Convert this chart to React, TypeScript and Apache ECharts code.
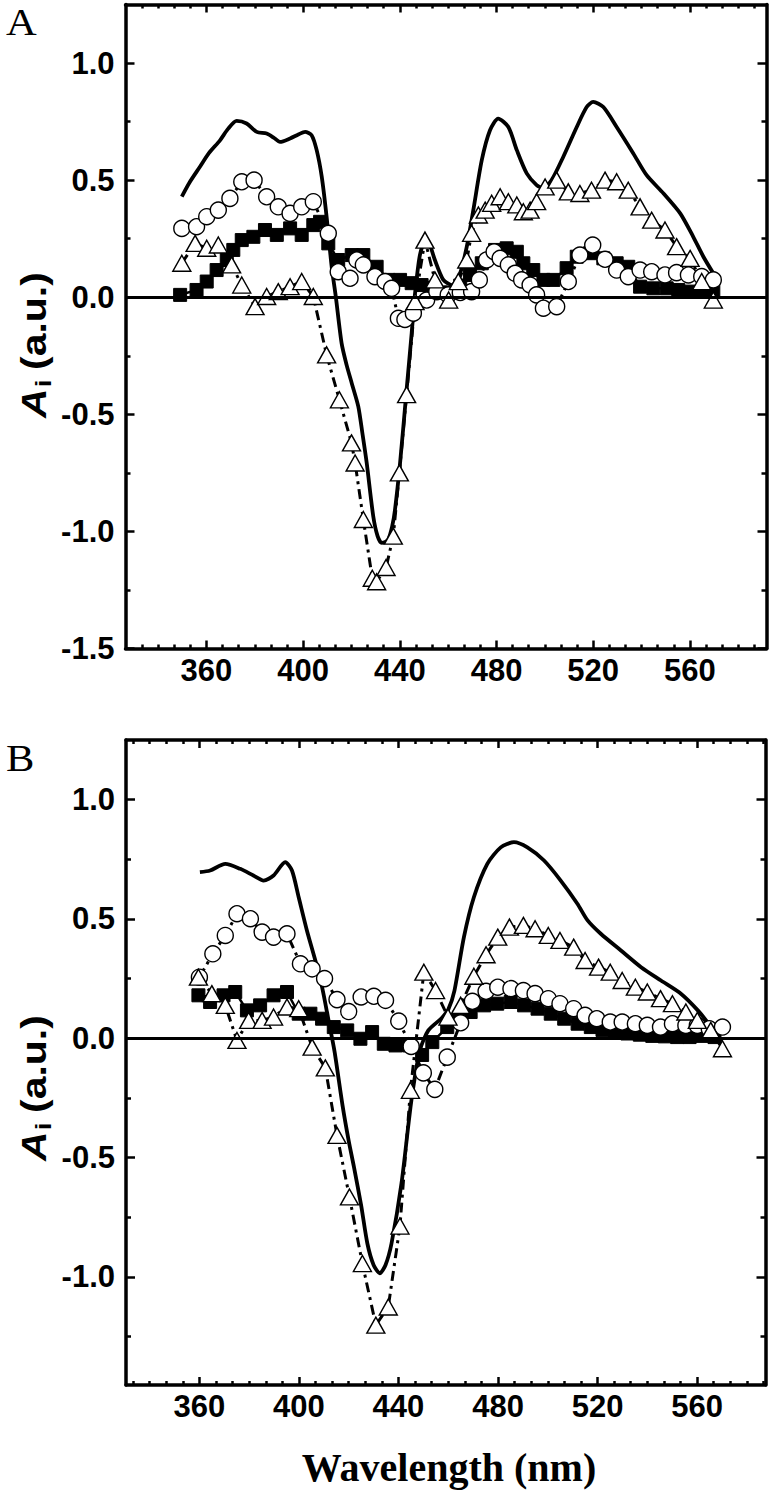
import React, { useEffect, useRef } from "react";
import * as echarts from "echarts";

// ---------- tick values ----------
const xMajorTicks = [360, 400, 440, 480, 520, 560];
const xMinorTicks = [333.33, 340, 346.67, 353.33, 366.67, 373.33, 380, 386.67, 393.33, 406.67, 413.33, 420, 426.67, 433.33, 446.67, 453.33, 460, 466.67, 473.33, 486.67, 493.33, 500, 506.67, 513.33, 526.67, 533.33, 540, 546.67, 553.33, 566.67, 573.33, 580, 586.67];
const yMajorTicksA = [-1.5, -1.0, -0.5, 0, 0.5, 1.0];
const yMinorTicksA = [-1.25, -0.75, -0.25, 0.25, 0.75];
const yMajorTicksB = [-1.0, -0.5, 0, 0.5, 1.0];
const yMinorTicksB = [-1.25, -0.75, -0.25, 0.25, 0.75];

// ---------- Panel A ----------
const aSolidX = [349.8, 353, 357.3, 361, 365.6, 369, 372.5, 376.6, 380.8, 384.9, 388, 390.4, 394.6, 398, 400.8, 403.5, 405.6, 407.7, 409.7, 411.8, 413.5, 415.9, 418, 420.1, 422.8, 424.5, 426.3, 429, 430.8, 432.5, 434, 435.2, 436.8, 438, 440.1, 442.8, 444.9, 446.3, 448.3, 450.5, 452, 454.5, 458, 461.5, 464.9, 467.7, 470.4, 473.9, 477.3, 480.7, 484.9, 488.4, 492.5, 496.6, 499.4, 502.8, 507.6, 513.2, 517.3, 520, 524.2, 529.7, 536.6, 542.1, 549.1, 556, 561.4, 565.6, 569.7];
const aSolidY = [0.43, 0.49, 0.557, 0.615, 0.67, 0.72, 0.753, 0.742, 0.706, 0.699, 0.68, 0.663, 0.678, 0.695, 0.706, 0.692, 0.628, 0.514, 0.344, 0.13, 0.003, -0.196, -0.29, -0.367, -0.466, -0.58, -0.708, -0.935, -1.02, -1.049, -1.045, -1.035, -0.98, -0.907, -0.708, -0.395, -0.153, 0.017, 0.18, 0.24, 0.235, 0.159, 0.074, 0.052, 0.102, 0.216, 0.372, 0.585, 0.713, 0.763, 0.727, 0.628, 0.529, 0.479, 0.465, 0.5, 0.599, 0.727, 0.812, 0.834, 0.812, 0.727, 0.614, 0.521, 0.443, 0.358, 0.258, 0.173, 0.102];

const aSquareX = [349.1, 355.9, 360.1, 364.2, 368.4, 371.1, 374.6, 379.4, 384.2, 389.1, 394.6, 399.4, 404.2, 407, 410.4, 414.5, 420.1, 424.9, 430.4, 435.2, 440.1, 444.9, 449, 453, 457, 461, 465, 469, 473.9, 479.4, 484.2, 488.4, 491.1, 495.2, 499.4, 503.5, 509, 513.2, 518.7, 524.2, 529.7, 534.5, 539.4, 544.9, 550.4, 555.2, 560.1, 564.9, 569.7];
const aSquareY = [0.01, 0.031, 0.067, 0.116, 0.159, 0.202, 0.244, 0.258, 0.287, 0.266, 0.294, 0.266, 0.308, 0.322, 0.23, 0.159, 0.18, 0.18, 0.13, 0.074, 0.074, 0.06, 0.052, 0.04, 0.02, 0.02, 0.05, 0.095, 0.145, 0.202, 0.209, 0.194, 0.145, 0.116, 0.074, 0.074, 0.124, 0.173, 0.188, 0.166, 0.145, 0.13, 0.045, 0.038, 0.038, 0.031, 0.024, 0.024, 0.031];

const aCircleX = [349.8, 355.9, 360.1, 364.9, 369.7, 374.6, 379.7, 384.9, 389.7, 394.6, 399.4, 404.2, 410.4, 414.5, 419.4, 422.2, 424.9, 429.7, 433.9, 436.6, 439.4, 442.1, 445.6, 451.1, 455.3, 460, 465, 469.7, 472.9, 475.9, 479, 481.5, 484.9, 487.7, 490.4, 493.9, 496.6, 499.4, 504.9, 509.7, 514.5, 519.8, 524.9, 529.7, 534.5, 539.4, 544.2, 549.7, 554.5, 559.4, 564.9, 569.7];
const aCircleY = [0.294, 0.301, 0.344, 0.372, 0.422, 0.493, 0.5, 0.429, 0.386, 0.358, 0.386, 0.408, 0.273, 0.109, 0.081, 0.159, 0.138, 0.088, 0.067, 0.038, -0.09, -0.095, -0.068, -0.012, 0.024, 0.01, 0.02, 0.024, 0.074, 0.159, 0.194, 0.166, 0.138, 0.102, 0.074, 0.052, 0.01, -0.047, -0.04, 0.067, 0.18, 0.223, 0.162, 0.116, 0.088, 0.116, 0.109, 0.095, 0.105, 0.095, 0.088, 0.074];

const aTriangleX = [349.8, 355.3, 360.1, 364.9, 370.4, 374.6, 380.1, 384.9, 389.7, 394.6, 399.4, 404.2, 409.7, 415, 420, 421.5, 424.9, 428.6, 430.4, 434.3, 437.3, 439.8, 442.8, 446.3, 450.4, 454.5, 460.2, 464.2, 467.7, 469.7, 472.5, 475.3, 478, 481.5, 484.9, 488.4, 491.1, 493.9, 496.6, 500.1, 504.9, 509.7, 514.5, 519.3, 524.9, 529.7, 534.5, 539.4, 544.2, 549.7, 554.5, 560.1, 564.9, 569.7];
const aTriangleY = [0.145, 0.23, 0.209, 0.223, 0.138, 0.052, -0.04, 0.003, 0.024, 0.045, 0.067, 0.003, -0.246, -0.438, -0.622, -0.708, -0.949, -1.2, -1.215, -1.154, -1.02, -0.75, -0.416, -0.019, 0.244, 0.074, -0.012, 0.067, 0.159, 0.273, 0.351, 0.372, 0.401, 0.429, 0.408, 0.394, 0.365, 0.372, 0.408, 0.471, 0.5, 0.45, 0.443, 0.457, 0.5, 0.493, 0.457, 0.386, 0.329, 0.287, 0.216, 0.166, 0.067, -0.012];

// ---------- Panel B ----------
const bSolidX = [360.2, 364.3, 370.4, 376.4, 381.7, 385.8, 389.8, 394.5, 397.2, 399.9, 403.2, 406.6, 409.3, 411.9, 414.3, 417.5, 420, 422.1, 425, 427.5, 430, 432.5, 434.8, 437.2, 441.2, 445.2, 448.6, 452, 457.4, 460, 462.5, 466.3, 470.3, 475.7, 481.1, 486.4, 491.8, 498.5, 505.2, 511.9, 516, 521.3, 529.4, 537.5, 545.5, 553.5, 560.3, 565.6, 569.6];
const bSolidY = [0.696, 0.703, 0.731, 0.71, 0.682, 0.661, 0.682, 0.738, 0.703, 0.591, 0.452, 0.326, 0.214, 0.075, -0.055, -0.28, -0.43, -0.539, -0.7, -0.86, -0.95, -0.985, -0.95, -0.86, -0.609, -0.26, -0.051, 0.033, 0.085, 0.12, 0.2, 0.424, 0.591, 0.731, 0.8, 0.822, 0.8, 0.745, 0.661, 0.564, 0.494, 0.438, 0.368, 0.298, 0.242, 0.187, 0.117, 0.047, -0.016];

const bSquareX = [359.6, 364.3, 369.7, 374.4, 379.1, 384.4, 389.8, 395.2, 399.9, 404.6, 409.3, 414, 419.4, 424.7, 429.4, 434.1, 438.8, 444.2, 449.5, 453.6, 459.6, 463.6, 469, 474.4, 479.7, 485.1, 490.5, 495.9, 501.2, 506.6, 512, 517.3, 522, 527, 532, 537, 542, 547, 552, 557, 562, 567];
const bSquareY = [0.18, 0.152, 0.18, 0.194, 0.117, 0.138, 0.18, 0.194, 0.103, 0.103, 0.082, 0.047, 0.033, -0.002, 0.026, -0.023, -0.03, -0.03, -0.07, -0.016, 0.047, 0.075, 0.11, 0.138, 0.145, 0.152, 0.138, 0.124, 0.103, 0.082, 0.061, 0.047, 0.035, 0.025, 0.02, 0.015, 0.01, 0.008, 0.005, 0.005, 0.01, 0.005];

const bCircleX = [360, 365.4, 370.4, 375.1, 380.5, 385.2, 389.8, 395.2, 400.6, 405.3, 410.3, 415.3, 420, 425, 430.1, 434.8, 440.1, 445.1, 450, 454.6, 459.6, 465, 469.7, 475.2, 479.9, 485.2, 490.2, 494.9, 500.2, 504.9, 510.4, 515, 519.7, 525.1, 529.9, 535.2, 540, 545.3, 550.1, 555.5, 560.1, 564.9, 570.2];
const bCircleY = [0.256, 0.354, 0.431, 0.522, 0.501, 0.445, 0.424, 0.438, 0.312, 0.291, 0.25, 0.162, 0.112, 0.173, 0.176, 0.159, 0.072, -0.034, -0.145, -0.214, -0.079, 0.065, 0.155, 0.197, 0.214, 0.208, 0.2, 0.187, 0.166, 0.145, 0.124, 0.096, 0.082, 0.068, 0.068, 0.061, 0.054, 0.047, 0.061, 0.054, 0.054, 0.04, 0.047];

const bTriangleX = [359.6, 365, 370.4, 375.1, 379.8, 385.2, 389.8, 395.2, 399.9, 405.3, 410.6, 415.3, 420.3, 425.5, 430.9, 435.9, 440.6, 444.8, 450.2, 454.9, 459.9, 465, 470.3, 475.2, 479.9, 484.6, 490.2, 494.9, 500.2, 504.9, 510.4, 515, 520.4, 525.1, 529.9, 535.2, 540, 545.3, 550.1, 555.5, 560.1, 565.5, 570.2];
const bTriangleY = [0.256, 0.187, 0.138, -0.009, 0.075, 0.075, 0.089, 0.131, 0.124, -0.037, -0.124, -0.407, -0.665, -0.944, -1.202, -1.126, -0.787, -0.218, 0.277, 0.2, 0.089, 0.138, 0.26, 0.35, 0.424, 0.466, 0.473, 0.459, 0.431, 0.41, 0.382, 0.326, 0.298, 0.277, 0.242, 0.214, 0.194, 0.166, 0.145, 0.11, 0.075, 0.033, -0.044];

const sans = "'Liberation Sans Narrow', 'Arial Narrow', 'Liberation Sans', Arial, sans-serif";
const sansWide = "'Liberation Sans', Arial, sans-serif";
const serif = "'Liberation Serif', 'Times New Roman', serif";

const pairs = (xs: number[], ys: number[]) => xs.map((x, i) => [x, ys[i]]);

function xAxisDef(gi: number, pos: string, min: number, max: number, ticks: number[], len: number, withLine: boolean, withLabel: boolean) {
  return {
    type: "value",
    gridIndex: gi,
    position: pos,
    min,
    max,
    splitLine: { show: false },
    axisLine: { show: withLine, onZero: false, lineStyle: { color: "#000", width: 3.5 } },
    axisTick: { show: true, inside: true, length: len, customValues: ticks, lineStyle: { color: "#000", width: 2.5 } },
    axisLabel: withLabel
      ? { show: true, customValues: ticks, margin: 6, color: "#000", fontSize: 31, fontWeight: "bold", fontFamily: sans, formatter: (v: number) => String(Math.round(v)) }
      : { show: false },
  };
}

function yAxisDef(gi: number, pos: string, min: number, max: number, ticks: number[], len: number, withLine: boolean, withLabel: boolean) {
  return {
    type: "value",
    gridIndex: gi,
    position: pos,
    min,
    max,
    splitLine: { show: false },
    axisLine: { show: withLine, onZero: false, lineStyle: { color: "#000", width: 3.5 } },
    axisTick: { show: true, inside: true, length: len, customValues: ticks, lineStyle: { color: "#000", width: 2.5 } },
    axisLabel: withLabel
      ? { show: true, customValues: ticks, margin: 11, color: "#000", fontSize: 31, fontWeight: "bold", fontFamily: sans, formatter: (v: number) => v.toFixed(1) }
      : { show: false },
  };
}

function panelSeries(gi: number, sq: number[][], ci: number[][], tr: number[][], so: number[][]) {
  const xi = gi * 4;
  const yi = gi * 4;
  const dashDot = [10, 5, 3, 5];
  return [
    {
      type: "line", xAxisIndex: xi, yAxisIndex: yi, data: sq,
      symbol: "rect", symbolSize: 13,
      itemStyle: { color: "#000", borderColor: "#000", borderWidth: 1 },
      lineStyle: { color: "#000", width: 2.5, type: "solid" },
      markLine: {
        silent: true, symbol: ["none", "none"], label: { show: false },
        lineStyle: { color: "#000", width: 3, type: "solid" },
        data: [{ yAxis: 0 }],
      },
    },
    {
      type: "line", xAxisIndex: xi, yAxisIndex: yi, data: ci,
      symbol: "circle", symbolSize: 16,
      itemStyle: { color: "#fff", borderColor: "#000", borderWidth: 1.4 },
      lineStyle: { color: "#000", width: 3, type: dashDot },
    },
    {
      type: "line", xAxisIndex: xi, yAxisIndex: yi, data: tr,
      symbol: "triangle", symbolSize: [18, 16],
      itemStyle: { color: "#fff", borderColor: "#000", borderWidth: 1.4 },
      lineStyle: { color: "#000", width: 3, type: dashDot },
    },
    {
      type: "line", xAxisIndex: xi, yAxisIndex: yi, data: so,
      symbol: "none", smooth: 0.25,
      lineStyle: { color: "#000", width: 3.8, type: "solid" },
    },
  ];
}

function yTitle(cx: number, cy: number) {
  const fs = 41;
  return {
    type: "group",
    x: cx,
    y: cy,
    rotation: Math.PI / 2,
    scaleY: 0.85,
    children: [
      { type: "text", x: -73, y: 0, style: { text: "A", fill: "#000", fontSize: fs, fontWeight: "bold", fontStyle: "italic", fontFamily: sansWide, align: "left", verticalAlign: "middle" } },
      { type: "text", x: -42, y: 11, style: { text: "i", fill: "#000", fontSize: 26, fontWeight: "bold", fontFamily: sansWide, align: "left", verticalAlign: "middle" } },
      { type: "text", x: -25, y: 0, style: { text: "(a.u.)", fill: "#000", fontSize: fs, fontWeight: "bold", fontFamily: sansWide, align: "left", verticalAlign: "middle" } },
    ],
  };
}

export default function App() {
  const ref = useRef<HTMLDivElement>(null);
  useEffect(() => {
    if (!ref.current) return;
    const chart = echarts.init(ref.current, undefined, { renderer: "svg" });
    const aMin = 326.5, aMax = 591.7, bMin = 330.5, bMax = 587.5;
    const option = {
      animation: false,
      backgroundColor: "#fff",
      grid: [
        { left: 125.5, top: 4.5, width: 641, height: 644 },
        { left: 126, top: 740, width: 639.5, height: 645 },
      ],
      xAxis: [
        xAxisDef(0, "bottom", aMin, aMax, xMajorTicks, 8, true, true),
        xAxisDef(0, "bottom", aMin, aMax, xMinorTicks, 4, false, false),
        xAxisDef(0, "top", aMin, aMax, xMajorTicks, 8, true, false),
        xAxisDef(0, "top", aMin, aMax, xMinorTicks, 4, false, false),
        xAxisDef(1, "bottom", bMin, bMax, xMajorTicks, 8, true, true),
        xAxisDef(1, "bottom", bMin, bMax, xMinorTicks, 4, false, false),
        xAxisDef(1, "top", bMin, bMax, xMajorTicks, 8, true, false),
        xAxisDef(1, "top", bMin, bMax, xMinorTicks, 4, false, false),
      ],
      yAxis: [
        yAxisDef(0, "left", -1.5, 1.25, yMajorTicksA, 9, true, true),
        yAxisDef(0, "left", -1.5, 1.25, yMinorTicksA, 5, false, false),
        yAxisDef(0, "right", -1.5, 1.25, yMajorTicksA, 9, true, false),
        yAxisDef(0, "right", -1.5, 1.25, yMinorTicksA, 5, false, false),
        yAxisDef(1, "left", -1.453, 1.25, yMajorTicksB, 9, true, true),
        yAxisDef(1, "left", -1.453, 1.25, yMinorTicksB, 5, false, false),
        yAxisDef(1, "right", -1.453, 1.25, yMajorTicksB, 9, true, false),
        yAxisDef(1, "right", -1.453, 1.25, yMinorTicksB, 5, false, false),
      ],
      series: [
        ...panelSeries(0, pairs(aSquareX, aSquareY), pairs(aCircleX, aCircleY), pairs(aTriangleX, aTriangleY), pairs(aSolidX, aSolidY)),
        ...panelSeries(1, pairs(bSquareX, bSquareY), pairs(bCircleX, bCircleY), pairs(bTriangleX, bTriangleY), pairs(bSolidX, bSolidY)),
      ],
      graphic: [
        { type: "text", x: 6, y: 3, scaleX: 1.12, style: { text: "A", fill: "#000", fontSize: 38, fontFamily: serif, align: "left", verticalAlign: "top" } },
        { type: "text", x: 6, y: 739, scaleX: 1.12, style: { text: "B", fill: "#000", fontSize: 38, fontFamily: serif, align: "left", verticalAlign: "top" } },
        yTitle(34, 345),
        yTitle(34, 1088),
        { type: "text", x: 449, y: 1467, style: { text: "Wavelength (nm)", fill: "#000", fontSize: 40, fontWeight: "bold", fontFamily: serif, align: "center", verticalAlign: "middle" } },
      ],
    };
    chart.setOption(option as any);
    return () => chart.dispose();
  }, []);
  return (
    <div
      ref={ref}
      style={{ position: "absolute", left: 0, top: 0, width: 775, height: 1494, background: "#fff" }}
    />
  );
}
